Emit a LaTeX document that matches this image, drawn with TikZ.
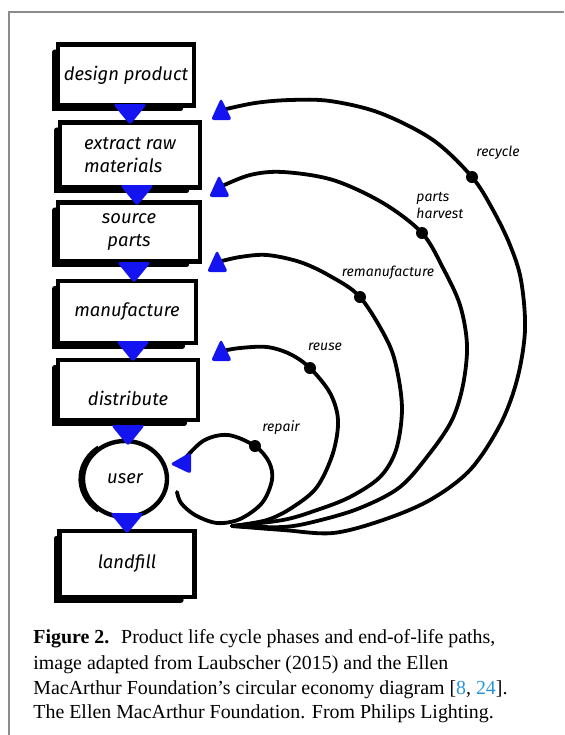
\documentclass[tikz,border=0pt]{standalone}
\usepackage{fontspec}
\setmainfont{Liberation Serif}
\newfontfamily\hand{Fira Sans}
\usetikzlibrary{shapes.geometric,calc}
\definecolor{tri}{RGB}{20,20,240}
\definecolor{framec}{RGB}{140,140,140}
\definecolor{citec}{RGB}{40,150,215}
\begin{document}
\begin{tikzpicture}[x=0.5pt,y=-0.5pt,
  box/.style={draw, line width=2.3pt, inner sep=0pt, align=center,
    font=\hand\itshape\fontsize{9.2}{11.5}\selectfont},
  shadowline/.style={line width=2.8pt, line cap=round},
  arcline/.style={line width=1.9pt, line cap=round, line join=round},
  dot/.style={circle, fill=black, inner sep=0pt, minimum size=6pt},
  lab/.style={inner sep=0pt, font=\hand\itshape\fontsize{7}{8.5}\selectfont},
  captext/.style={inner sep=0pt, font=\fontsize{9.95}{12.5}\selectfont},
  trifill/.style={fill=tri, rounded corners=1.5pt}]
\useasboundingbox (0,0) rectangle (564,735);
\draw[framec, line width=1pt] (8.5,735) -- (8.5,12) -- (564,12);

% boxes
\node[box, minimum width=68pt, minimum height=30.5pt] (design) at (126,75) {design product};
\node[box, minimum width=70pt, minimum height=32.5pt, align=left] (extract) at (130,155) {extract raw\\materials};
\node[box, minimum width=71pt, minimum height=29.5pt] (source) at (129,232) {source\\parts};
\node[box, minimum width=69pt, minimum height=31pt] (manufacture) at (127,312) {manufacture};
\node[box, minimum width=70pt, minimum height=30pt, text height=15pt, text depth=0pt] (distribute) at (128,390) {distribute};
\node[box, minimum width=67.5pt, minimum height=33pt] (landfill) at (127,564) {landfill};
\foreach \n in {design,extract,source,manufacture,distribute,landfill}{
  \draw[shadowline] ([xshift=-0.4pt,yshift=-5pt]\n.north west) -- ([xshift=-0.4pt,yshift=-0.4pt]\n.south west)
     -- ([xshift=-8pt,yshift=-0.4pt]\n.south east);
}
% user
\node[draw, ellipse, line width=2.2pt, minimum width=42pt, minimum height=38pt, inner sep=0pt,
  font=\hand\itshape\fontsize{9.2}{11.5}\selectfont] (user) at (125,479) {user};
\draw[line width=2.6pt, shift={(user.center)}] (-2,0) ++(125:42 and 38) arc[start angle=125, end angle=235, x radius=42, y radius=38];

% coordinates
\coordinate (M) at (232,526);
\coordinate (a1) at (222,110);
\coordinate (a2) at (220,187);
\coordinate (a3) at (218,262);
\coordinate (a4) at (222,351);
\coordinate (a5) at (181,463);
\coordinate (r0) at (177,492);

% arcs
\draw[arcline] plot[smooth, tension=0.55] coordinates {(M) (283,530) (333,533) (383,520) (430,500) (470,470) (500,425) (517,380) (525,330) (521,280) (510,245) (493,210) (472,177) (433,140) (380,113) (330,101) (290,100) (255,103) (a1)};
\draw[arcline] plot[smooth, tension=0.55] coordinates {(M) (283,527) (317,521) (360,508) (400,487) (430,453) (452,420) (463,385) (467,345) (460,305) (443,268) (422,233) (383,203) (333,180) (283,172) (250,175) (a2)};
\draw[arcline] plot[smooth, tension=0.55] coordinates {(M) (283,520) (317,510) (350,497) (380,477) (396,450) (402,410) (397,370) (387,340) (360,297) (330,276) (300,262) (267,255) (240,257) (a3)};
\draw[arcline] plot[smooth, tension=0.55] coordinates {(M) (267,520) (293,507) (317,487) (333,453) (338,420) (330,393) (310,368) (290,354) (267,347) (240,348) (a4)};
\draw[arcline] plot[smooth, tension=0.55] coordinates {(r0) (181,503) (195,515) (217,523) (240,519) (262,503) (272,480) (269,462) (255,446) (228,435) (203,441) (a5)};

% dots
\node[dot] (dRc) at (472,177) {};
\node[dot] (dPh) at (422,233) {};
\node[dot] (dRm) at (360,297) {};
\node[dot] (dRu) at (310,368) {};
\node[dot] (dRp) at (255,446) {};

% labels
\node[lab] (lRc) at (498,153) {recycle};
\node[lab, align=left, anchor=west] (lPh) at (416,205) {parts\\harvest};
\node[lab] (lRm) at (388,273) {remanufacture};
\node[lab] (lRu) at (325,347) {reuse};
\node[lab] (lRp) at (281,428) {repair};

% down triangles
\coordinate (t1) at (130,114);
\coordinate (t2) at (137,195);
\coordinate (t3) at (134,272);
\coordinate (t4) at (133,351);
\coordinate (t5) at (128,435);
\coordinate (t6) at (127,523);
\foreach \t in {t1,t2,t3,t4,t5,t6}{
  \fill[trifill, shift={(\t)}] (-17,-10) -- (17,-10) -- (0,11) -- cycle;
}
% arrowheads of arcs
\foreach \t in {a1,a2,a3,a4}{
  \fill[trifill, shift={(\t)}] (-11,10) -- (-1,-12) -- (10,10) -- cycle;
}
\fill[trifill, shift={(a5)}] (-11,1) -- (10,-11) -- (10,11) -- cycle;

% caption
\node[captext, anchor=base west] (c1) at (33,643) {\textbf{Figure 2.}\hspace{0.6em}Product life cycle phases and end-of-life paths,};
\node[captext, anchor=base west] (c2) at (33,669) {image adapted from Laubscher (2015) and the Ellen};
\node[captext, anchor=base west] (c3) at (33,694) {MacArthur Foundation’s circular economy diagram [\textcolor{citec}{8}, \textcolor{citec}{24}].};
\node[captext, anchor=base west] (c4) at (33,718) {The Ellen MacArthur Foundation. From Philips Lighting.};
\end{tikzpicture}
\end{document}
